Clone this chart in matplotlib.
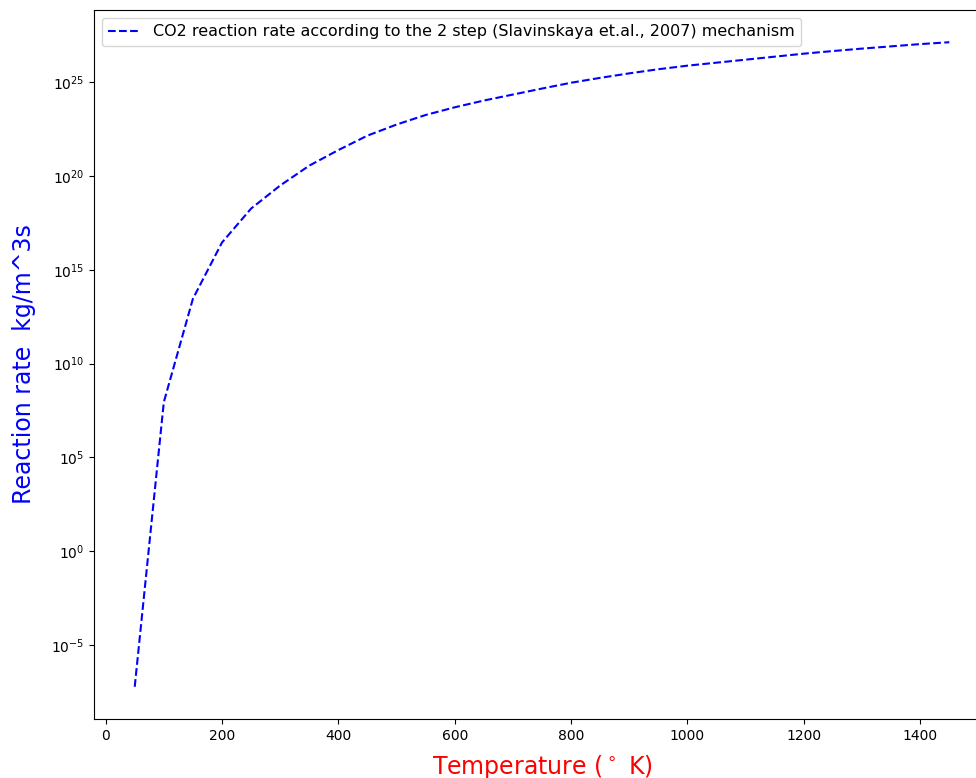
import matplotlib
matplotlib.use("Agg")
import matplotlib.pyplot as plt
import numpy as np

temperature = [50, 100, 150, 200, 250, 300, 350, 400, 450, 500, 550, 600, 650,
               700, 750, 800, 850, 900, 950, 1000, 1050, 1100, 1150, 1200,
               1250, 1300, 1350, 1400, 1450]
log10_rate = [-7.23, 7.95, 13.46, 16.46, 18.27, 19.50, 20.56, 21.39, 22.16,
              22.75, 23.26, 23.67, 24.03, 24.35, 24.67, 24.98, 25.24, 25.48,
              25.70, 25.89, 26.05, 26.21, 26.37, 26.53, 26.67, 26.80, 26.92,
              27.04, 27.14]
rate = [10.0 ** v for v in log10_rate]
ytick_exponents = [-5, 0, 5, 10, 15, 20, 25]

label = "CO2 reaction rate according to the 2 step (Slavinskaya et.al., 2007) mechanism"

fig = plt.figure(figsize=(9.76, 7.78), dpi=100)
ax = fig.add_axes([94 / 976, 59 / 778, (990 - 94) / 976, (719 - 10) / 778])
ax.plot(temperature, rate, "b--", label=label)
ax.set_yscale("log")
ax.yaxis.set_major_locator(matplotlib.ticker.FixedLocator([10.0 ** e for e in ytick_exponents]))
ax.yaxis.set_minor_locator(matplotlib.ticker.NullLocator())
ax.set_xlabel("Temperature ($^\\circ$ K)", color="red", fontsize=17, labelpad=7.5)
ax.set_ylabel("Reaction rate  kg/m^3s", color="blue", fontsize=17, labelpad=11)
ax.legend(loc="upper left", fontsize=11.5)
fig.savefig("out.png", dpi=100)
